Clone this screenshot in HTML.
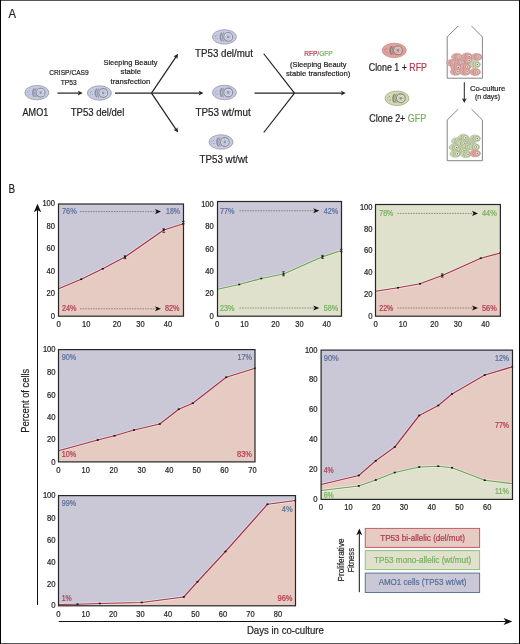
<!DOCTYPE html><html><head><meta charset="utf-8"><title>Figure</title><style>html,body{margin:0;padding:0;background:#fff;}svg{display:block;will-change:transform;}</style></head><body>
<svg width="520" height="644" viewBox="0 0 520 644" font-family="&quot;Liberation Sans&quot;, sans-serif">
<rect x="0" y="0" width="520" height="644" fill="#fff"/>
<rect x="0" y="0" width="520" height="1" fill="#555"/><rect x="0" y="643" width="520" height="1" fill="#555"/>
<rect x="0" y="0" width="1" height="644" fill="#000"/><rect x="519" y="0" width="1" height="644" fill="#000"/>
<text x="8.5" y="18.1" font-size="12" fill="#231f20" stroke="#231f20" stroke-width="0.22" text-anchor="start" textLength="7.5" lengthAdjust="spacingAndGlyphs">A</text>
<g transform="translate(36.85,92.65) scale(1.0)"><ellipse cx="0" cy="0" rx="12" ry="7.2" fill="#c6cbe2" stroke="#9597a8" stroke-width="0.8"/><path d="M-2.6,-4.2 Q-5.6,0 -2.6,4.2" fill="none" stroke="#8d8f9d" stroke-width="1.5"/><path d="M-0.6,-4.6 Q-3.6,0 -0.6,4.6" fill="none" stroke="#8d8f9d" stroke-width="1.2" opacity="0.75"/><circle cx="3.8" cy="0" r="4.4" fill="#d7dbee" stroke="#8d8f9d" stroke-width="1.1"/><circle cx="3.8" cy="0" r="2.6" fill="none" stroke="#8d8f9d" stroke-width="0.6" opacity="0.6"/><circle cx="3.8" cy="0" r="1.4" fill="#8d8f9d" opacity="0.9"/><circle cx="-9" cy="-0.5" r="0.55" fill="#8d8f9d"/><circle cx="-7.5" cy="-1.8" r="0.5" fill="#8d8f9d"/><circle cx="-7" cy="1.6" r="0.55" fill="#8d8f9d"/><circle cx="-9.2" cy="1.8" r="0.4" fill="#8d8f9d"/></g>
<g transform="translate(99.4,93) scale(1.0)"><ellipse cx="0" cy="0" rx="12" ry="7.2" fill="#c6cbe2" stroke="#9597a8" stroke-width="0.8"/><path d="M-2.6,-4.2 Q-5.6,0 -2.6,4.2" fill="none" stroke="#8d8f9d" stroke-width="1.5"/><path d="M-0.6,-4.6 Q-3.6,0 -0.6,4.6" fill="none" stroke="#8d8f9d" stroke-width="1.2" opacity="0.75"/><circle cx="3.8" cy="0" r="4.4" fill="#d7dbee" stroke="#8d8f9d" stroke-width="1.1"/><circle cx="3.8" cy="0" r="2.6" fill="none" stroke="#8d8f9d" stroke-width="0.6" opacity="0.6"/><circle cx="3.8" cy="0" r="1.4" fill="#8d8f9d" opacity="0.9"/><circle cx="-9" cy="-0.5" r="0.55" fill="#8d8f9d"/><circle cx="-7.5" cy="-1.8" r="0.5" fill="#8d8f9d"/><circle cx="-7" cy="1.6" r="0.55" fill="#8d8f9d"/><circle cx="-9.2" cy="1.8" r="0.4" fill="#8d8f9d"/></g>
<g transform="translate(224.4,36.9) scale(1.0)"><ellipse cx="0" cy="0" rx="12" ry="7.2" fill="#c6cbe2" stroke="#9597a8" stroke-width="0.8"/><path d="M-2.6,-4.2 Q-5.6,0 -2.6,4.2" fill="none" stroke="#8d8f9d" stroke-width="1.5"/><path d="M-0.6,-4.6 Q-3.6,0 -0.6,4.6" fill="none" stroke="#8d8f9d" stroke-width="1.2" opacity="0.75"/><circle cx="3.8" cy="0" r="4.4" fill="#d7dbee" stroke="#8d8f9d" stroke-width="1.1"/><circle cx="3.8" cy="0" r="2.6" fill="none" stroke="#8d8f9d" stroke-width="0.6" opacity="0.6"/><circle cx="3.8" cy="0" r="1.4" fill="#8d8f9d" opacity="0.9"/><circle cx="-9" cy="-0.5" r="0.55" fill="#8d8f9d"/><circle cx="-7.5" cy="-1.8" r="0.5" fill="#8d8f9d"/><circle cx="-7" cy="1.6" r="0.55" fill="#8d8f9d"/><circle cx="-9.2" cy="1.8" r="0.4" fill="#8d8f9d"/></g>
<g transform="translate(224.4,92.5) scale(1.0)"><ellipse cx="0" cy="0" rx="12" ry="7.2" fill="#c6cbe2" stroke="#9597a8" stroke-width="0.8"/><path d="M-2.6,-4.2 Q-5.6,0 -2.6,4.2" fill="none" stroke="#8d8f9d" stroke-width="1.5"/><path d="M-0.6,-4.6 Q-3.6,0 -0.6,4.6" fill="none" stroke="#8d8f9d" stroke-width="1.2" opacity="0.75"/><circle cx="3.8" cy="0" r="4.4" fill="#d7dbee" stroke="#8d8f9d" stroke-width="1.1"/><circle cx="3.8" cy="0" r="2.6" fill="none" stroke="#8d8f9d" stroke-width="0.6" opacity="0.6"/><circle cx="3.8" cy="0" r="1.4" fill="#8d8f9d" opacity="0.9"/><circle cx="-9" cy="-0.5" r="0.55" fill="#8d8f9d"/><circle cx="-7.5" cy="-1.8" r="0.5" fill="#8d8f9d"/><circle cx="-7" cy="1.6" r="0.55" fill="#8d8f9d"/><circle cx="-9.2" cy="1.8" r="0.4" fill="#8d8f9d"/></g>
<g transform="translate(221,142) scale(1.0)"><ellipse cx="0" cy="0" rx="12" ry="7.2" fill="#c6cbe2" stroke="#9597a8" stroke-width="0.8"/><path d="M-2.6,-4.2 Q-5.6,0 -2.6,4.2" fill="none" stroke="#8d8f9d" stroke-width="1.5"/><path d="M-0.6,-4.6 Q-3.6,0 -0.6,4.6" fill="none" stroke="#8d8f9d" stroke-width="1.2" opacity="0.75"/><circle cx="3.8" cy="0" r="4.4" fill="#d7dbee" stroke="#8d8f9d" stroke-width="1.1"/><circle cx="3.8" cy="0" r="2.6" fill="none" stroke="#8d8f9d" stroke-width="0.6" opacity="0.6"/><circle cx="3.8" cy="0" r="1.4" fill="#8d8f9d" opacity="0.9"/><circle cx="-9" cy="-0.5" r="0.55" fill="#8d8f9d"/><circle cx="-7.5" cy="-1.8" r="0.5" fill="#8d8f9d"/><circle cx="-7" cy="1.6" r="0.55" fill="#8d8f9d"/><circle cx="-9.2" cy="1.8" r="0.4" fill="#8d8f9d"/></g>
<g transform="translate(394.2,50.4) scale(1.0)"><ellipse cx="0" cy="0" rx="12" ry="7.2" fill="#e2a29c" stroke="#c98a86" stroke-width="0.8"/><path d="M-2.6,-4.2 Q-5.6,0 -2.6,4.2" fill="none" stroke="#8f7c7c" stroke-width="1.5"/><path d="M-0.6,-4.6 Q-3.6,0 -0.6,4.6" fill="none" stroke="#8f7c7c" stroke-width="1.2" opacity="0.75"/><circle cx="3.8" cy="0" r="4.4" fill="#f0c7c2" stroke="#8f7c7c" stroke-width="1.1"/><circle cx="3.8" cy="0" r="2.6" fill="none" stroke="#8f7c7c" stroke-width="0.6" opacity="0.6"/><circle cx="3.8" cy="0" r="1.4" fill="#8f7c7c" opacity="0.9"/><circle cx="-9" cy="-0.5" r="0.55" fill="#8f7c7c"/><circle cx="-7.5" cy="-1.8" r="0.5" fill="#8f7c7c"/><circle cx="-7" cy="1.6" r="0.55" fill="#8f7c7c"/><circle cx="-9.2" cy="1.8" r="0.4" fill="#8f7c7c"/></g>
<g transform="translate(397,98.3) scale(1.0)"><ellipse cx="0" cy="0" rx="12" ry="7.2" fill="#cfdbb0" stroke="#a2aa90" stroke-width="0.8"/><path d="M-2.6,-4.2 Q-5.6,0 -2.6,4.2" fill="none" stroke="#858a7a" stroke-width="1.5"/><path d="M-0.6,-4.6 Q-3.6,0 -0.6,4.6" fill="none" stroke="#858a7a" stroke-width="1.2" opacity="0.75"/><circle cx="3.8" cy="0" r="4.4" fill="#e3ead0" stroke="#858a7a" stroke-width="1.1"/><circle cx="3.8" cy="0" r="2.6" fill="none" stroke="#858a7a" stroke-width="0.6" opacity="0.6"/><circle cx="3.8" cy="0" r="1.4" fill="#858a7a" opacity="0.9"/><circle cx="-9" cy="-0.5" r="0.55" fill="#858a7a"/><circle cx="-7.5" cy="-1.8" r="0.5" fill="#858a7a"/><circle cx="-7" cy="1.6" r="0.55" fill="#858a7a"/><circle cx="-9.2" cy="1.8" r="0.4" fill="#858a7a"/></g>
<text x="22.5" y="115.6" font-size="10.4" fill="#231f20" stroke="#231f20" stroke-width="0.22" text-anchor="start" textLength="25.75" lengthAdjust="spacingAndGlyphs">AMO1</text>
<text x="69" y="75" font-size="8" fill="#231f20" stroke="#231f20" stroke-width="0.22" text-anchor="middle" textLength="39.5" lengthAdjust="spacingAndGlyphs">CRISP/CAS9</text>
<text x="68.75" y="84.5" font-size="8" fill="#231f20" stroke="#231f20" stroke-width="0.22" text-anchor="middle" textLength="16" lengthAdjust="spacingAndGlyphs">TP53</text>
<text x="70.75" y="115.6" font-size="10.4" fill="#231f20" stroke="#231f20" stroke-width="0.22" text-anchor="start" textLength="53.5" lengthAdjust="spacingAndGlyphs">TP53 del/del</text>
<text x="130.5" y="64.6" font-size="8.1" fill="#231f20" stroke="#231f20" stroke-width="0.22" text-anchor="middle" textLength="54" lengthAdjust="spacingAndGlyphs">Sleeping Beauty</text>
<text x="130.8" y="74" font-size="8.1" fill="#231f20" stroke="#231f20" stroke-width="0.22" text-anchor="middle" textLength="20.4" lengthAdjust="spacingAndGlyphs">stable</text>
<text x="130.4" y="83.6" font-size="8.1" fill="#231f20" stroke="#231f20" stroke-width="0.22" text-anchor="middle" textLength="39.6" lengthAdjust="spacingAndGlyphs">transfection</text>
<text x="195" y="57.1" font-size="10.4" fill="#231f20" stroke="#231f20" stroke-width="0.22" text-anchor="start" textLength="58" lengthAdjust="spacingAndGlyphs">TP53 del/mut</text>
<text x="195.5" y="115.6" font-size="10.4" fill="#231f20" stroke="#231f20" stroke-width="0.22" text-anchor="start" textLength="55.25" lengthAdjust="spacingAndGlyphs">TP53 wt/mut</text>
<text x="199.6" y="162.9" font-size="10.4" fill="#231f20" stroke="#231f20" stroke-width="0.22" text-anchor="start" textLength="48.2" lengthAdjust="spacingAndGlyphs">TP53 wt/wt</text>
<text x="304.2" y="56.3" font-size="8" stroke-width="0.22" textLength="28.5" lengthAdjust="spacingAndGlyphs"><tspan fill="#b23a50" stroke="#b23a50">RFP</tspan><tspan fill="#777" stroke="#777">/</tspan><tspan fill="#78b062" stroke="#78b062">GFP</tspan></text>
<text x="290" y="66.8" font-size="8" fill="#231f20" stroke="#231f20" stroke-width="0.22" text-anchor="start" textLength="56.5" lengthAdjust="spacingAndGlyphs">(Sleeping Beauty</text>
<text x="286" y="76.3" font-size="8" fill="#231f20" stroke="#231f20" stroke-width="0.22" text-anchor="start" textLength="64.2" lengthAdjust="spacingAndGlyphs">stable transfection)</text>
<text x="368.75" y="70.75" font-size="10.2" fill="#231f20" stroke="#231f20" stroke-width="0.22" textLength="58.25" lengthAdjust="spacingAndGlyphs">Clone 1 + <tspan fill="#b23a50" stroke="#b23a50">RFP</tspan></text>
<text x="369.25" y="122" font-size="10.2" fill="#231f20" stroke="#231f20" stroke-width="0.22" textLength="57" lengthAdjust="spacingAndGlyphs">Clone 2+ <tspan fill="#78b062" stroke="#78b062">GFP</tspan></text>
<text x="470" y="90.8" font-size="7.9" fill="#231f20" stroke="#231f20" stroke-width="0.22" text-anchor="start" textLength="35.4" lengthAdjust="spacingAndGlyphs">Co-culture</text>
<text x="475" y="99.2" font-size="7.9" fill="#231f20" stroke="#231f20" stroke-width="0.22" text-anchor="start" textLength="25" lengthAdjust="spacingAndGlyphs">(n days)</text>
<line x1="57.4" y1="93.1" x2="78.9" y2="93.1" stroke="#222" stroke-width="1.2"/>
<path transform="translate(82.7,93.1) rotate(0.0)" d="M0,0 L-4.8,-2.4 L-3.8,0 L-4.8,2.4 Z" fill="#222"/>
<line x1="115" y1="93.1" x2="151.5" y2="93.1" stroke="#222" stroke-width="1.2"/>
<line x1="151.5" y1="93.1" x2="175.97187384141347" y2="56.898186629337566" stroke="#222" stroke-width="1.2"/>
<path transform="translate(178.1,53.75) rotate(-55.94190625102983)" d="M0,0 L-4.8,-2.4 L-3.8,0 L-4.8,2.4 Z" fill="#222"/>
<line x1="151.5" y1="93.1" x2="199.7" y2="93.1" stroke="#222" stroke-width="1.2"/>
<path transform="translate(203.5,93.1) rotate(0.0)" d="M0,0 L-4.8,-2.4 L-3.8,0 L-4.8,2.4 Z" fill="#222"/>
<line x1="151.5" y1="93.1" x2="175.973728586243" y2="129.35056038714188" stroke="#222" stroke-width="1.2"/>
<path transform="translate(178.1,132.5) rotate(55.97565517281256)" d="M0,0 L-4.8,-2.4 L-3.8,0 L-4.8,2.4 Z" fill="#222"/>
<line x1="263.75" y1="53.75" x2="294.5" y2="93.1" stroke="#222" stroke-width="1.2"/>
<line x1="263.75" y1="132.5" x2="294.5" y2="93.1" stroke="#222" stroke-width="1.2"/>
<line x1="254.5" y1="93.1" x2="341.95" y2="93.1" stroke="#222" stroke-width="1.2"/>
<path transform="translate(345.75,93.1) rotate(0.0)" d="M0,0 L-4.8,-2.4 L-3.8,0 L-4.8,2.4 Z" fill="#222"/>
<line x1="464.3" y1="82.3" x2="464.3" y2="99.2" stroke="#222" stroke-width="1.0"/>
<path transform="translate(464.3,103) rotate(90.0)" d="M0,0 L-4.8,-2.4 L-3.8,0 L-4.8,2.4 Z" fill="#222"/>
<path d="M458.2,26 L447.2,37 L447.2,78.2 L482.4,78.2 L482.4,37 L471.5,26" fill="none" stroke="#777" stroke-width="0.9"/>
<path d="M458.2,109.2 L447.2,120 L447.2,160.7 L482.4,160.7 L482.4,120 L471.5,109.2" fill="none" stroke="#777" stroke-width="0.9"/>
<g transform="translate(456.9,56.9)"><ellipse rx="5.4" ry="3.5" fill="#e3a7a1" stroke="#c98c87" stroke-width="0.6"/><path d="M-1.2,-2.6 Q-3.4,0 -1.2,2.6" fill="none" stroke="#86797a" stroke-width="0.8" opacity="0.55"/><circle cx="2.2" r="2.1" fill="#f1d5d1" stroke="#86797a" stroke-width="0.55" stroke-opacity="0.8"/><circle cx="2.2" r="0.75" fill="#86797a"/></g>
<g transform="translate(467,56.5)"><ellipse rx="5.4" ry="3.5" fill="#e3a7a1" stroke="#c98c87" stroke-width="0.6"/><path d="M-1.2,-2.6 Q-3.4,0 -1.2,2.6" fill="none" stroke="#86797a" stroke-width="0.8" opacity="0.55"/><circle cx="2.2" r="2.1" fill="#f1d5d1" stroke="#86797a" stroke-width="0.55" stroke-opacity="0.8"/><circle cx="2.2" r="0.75" fill="#86797a"/></g>
<g transform="translate(476.7,57)"><ellipse rx="5.4" ry="3.5" fill="#e3a7a1" stroke="#c98c87" stroke-width="0.6"/><path d="M-1.2,-2.6 Q-3.4,0 -1.2,2.6" fill="none" stroke="#86797a" stroke-width="0.8" opacity="0.55"/><circle cx="2.2" r="2.1" fill="#f1d5d1" stroke="#86797a" stroke-width="0.55" stroke-opacity="0.8"/><circle cx="2.2" r="0.75" fill="#86797a"/></g>
<g transform="translate(452,62.9)"><ellipse rx="5.4" ry="3.5" fill="#e3a7a1" stroke="#c98c87" stroke-width="0.6"/><path d="M-1.2,-2.6 Q-3.4,0 -1.2,2.6" fill="none" stroke="#86797a" stroke-width="0.8" opacity="0.55"/><circle cx="2.2" r="2.1" fill="#f1d5d1" stroke="#86797a" stroke-width="0.55" stroke-opacity="0.8"/><circle cx="2.2" r="0.75" fill="#86797a"/></g>
<g transform="translate(467,60.5)"><ellipse rx="5.4" ry="3.5" fill="#e3a7a1" stroke="#c98c87" stroke-width="0.6"/><path d="M-1.2,-2.6 Q-3.4,0 -1.2,2.6" fill="none" stroke="#86797a" stroke-width="0.8" opacity="0.55"/><circle cx="2.2" r="2.1" fill="#f1d5d1" stroke="#86797a" stroke-width="0.55" stroke-opacity="0.8"/><circle cx="2.2" r="0.75" fill="#86797a"/></g>
<g transform="translate(459.8,62.9)"><ellipse rx="5.4" ry="3.5" fill="#e3a7a1" stroke="#c98c87" stroke-width="0.6"/><path d="M-1.2,-2.6 Q-3.4,0 -1.2,2.6" fill="none" stroke="#86797a" stroke-width="0.8" opacity="0.55"/><circle cx="2.2" r="2.1" fill="#f1d5d1" stroke="#86797a" stroke-width="0.55" stroke-opacity="0.8"/><circle cx="2.2" r="0.75" fill="#86797a"/></g>
<g transform="translate(475.1,64.5)"><ellipse rx="5.4" ry="3.5" fill="#cad8ab" stroke="#a9b793" stroke-width="0.6"/><path d="M-1.2,-2.6 Q-3.4,0 -1.2,2.6" fill="none" stroke="#6f7668" stroke-width="0.8" opacity="0.55"/><circle cx="2.2" r="2.1" fill="#edf1df" stroke="#6f7668" stroke-width="0.55" stroke-opacity="0.8"/><circle cx="2.2" r="0.75" fill="#6f7668"/></g>
<g transform="translate(456.1,67.4)"><ellipse rx="5.4" ry="3.5" fill="#e3a7a1" stroke="#c98c87" stroke-width="0.6"/><path d="M-1.2,-2.6 Q-3.4,0 -1.2,2.6" fill="none" stroke="#86797a" stroke-width="0.8" opacity="0.55"/><circle cx="2.2" r="2.1" fill="#f1d5d1" stroke="#86797a" stroke-width="0.55" stroke-opacity="0.8"/><circle cx="2.2" r="0.75" fill="#86797a"/></g>
<g transform="translate(465.4,67)"><ellipse rx="5.4" ry="3.5" fill="#e3a7a1" stroke="#c98c87" stroke-width="0.6"/><path d="M-1.2,-2.6 Q-3.4,0 -1.2,2.6" fill="none" stroke="#86797a" stroke-width="0.8" opacity="0.55"/><circle cx="2.2" r="2.1" fill="#f1d5d1" stroke="#86797a" stroke-width="0.55" stroke-opacity="0.8"/><circle cx="2.2" r="0.75" fill="#86797a"/></g>
<g transform="translate(455.7,71.8)"><ellipse rx="5.4" ry="3.5" fill="#e3a7a1" stroke="#c98c87" stroke-width="0.6"/><path d="M-1.2,-2.6 Q-3.4,0 -1.2,2.6" fill="none" stroke="#86797a" stroke-width="0.8" opacity="0.55"/><circle cx="2.2" r="2.1" fill="#f1d5d1" stroke="#86797a" stroke-width="0.55" stroke-opacity="0.8"/><circle cx="2.2" r="0.75" fill="#86797a"/></g>
<g transform="translate(465,71.8)"><ellipse rx="5.4" ry="3.5" fill="#e3a7a1" stroke="#c98c87" stroke-width="0.6"/><path d="M-1.2,-2.6 Q-3.4,0 -1.2,2.6" fill="none" stroke="#86797a" stroke-width="0.8" opacity="0.55"/><circle cx="2.2" r="2.1" fill="#f1d5d1" stroke="#86797a" stroke-width="0.55" stroke-opacity="0.8"/><circle cx="2.2" r="0.75" fill="#86797a"/></g>
<g transform="translate(475.1,72)"><ellipse rx="5.4" ry="3.5" fill="#e3a7a1" stroke="#c98c87" stroke-width="0.6"/><path d="M-1.2,-2.6 Q-3.4,0 -1.2,2.6" fill="none" stroke="#86797a" stroke-width="0.8" opacity="0.55"/><circle cx="2.2" r="2.1" fill="#f1d5d1" stroke="#86797a" stroke-width="0.55" stroke-opacity="0.8"/><circle cx="2.2" r="0.75" fill="#86797a"/></g>
<g transform="translate(463.4,137.7)"><ellipse rx="5.4" ry="3.5" fill="#cad8ab" stroke="#a9b793" stroke-width="0.6"/><path d="M-1.2,-2.6 Q-3.4,0 -1.2,2.6" fill="none" stroke="#6f7668" stroke-width="0.8" opacity="0.55"/><circle cx="2.2" r="2.1" fill="#edf1df" stroke="#6f7668" stroke-width="0.55" stroke-opacity="0.8"/><circle cx="2.2" r="0.75" fill="#6f7668"/></g>
<g transform="translate(475.1,138.5)"><ellipse rx="5.4" ry="3.5" fill="#cad8ab" stroke="#a9b793" stroke-width="0.6"/><path d="M-1.2,-2.6 Q-3.4,0 -1.2,2.6" fill="none" stroke="#6f7668" stroke-width="0.8" opacity="0.55"/><circle cx="2.2" r="2.1" fill="#edf1df" stroke="#6f7668" stroke-width="0.55" stroke-opacity="0.8"/><circle cx="2.2" r="0.75" fill="#6f7668"/></g>
<g transform="translate(456.9,141.3)"><ellipse rx="5.4" ry="3.5" fill="#cad8ab" stroke="#a9b793" stroke-width="0.6"/><path d="M-1.2,-2.6 Q-3.4,0 -1.2,2.6" fill="none" stroke="#6f7668" stroke-width="0.8" opacity="0.55"/><circle cx="2.2" r="2.1" fill="#edf1df" stroke="#6f7668" stroke-width="0.55" stroke-opacity="0.8"/><circle cx="2.2" r="0.75" fill="#6f7668"/></g>
<g transform="translate(469.8,142.1)"><ellipse rx="5.4" ry="3.5" fill="#cad8ab" stroke="#a9b793" stroke-width="0.6"/><path d="M-1.2,-2.6 Q-3.4,0 -1.2,2.6" fill="none" stroke="#6f7668" stroke-width="0.8" opacity="0.55"/><circle cx="2.2" r="2.1" fill="#edf1df" stroke="#6f7668" stroke-width="0.55" stroke-opacity="0.8"/><circle cx="2.2" r="0.75" fill="#6f7668"/></g>
<g transform="translate(462.6,143.3)"><ellipse rx="5.4" ry="3.5" fill="#cad8ab" stroke="#a9b793" stroke-width="0.6"/><path d="M-1.2,-2.6 Q-3.4,0 -1.2,2.6" fill="none" stroke="#6f7668" stroke-width="0.8" opacity="0.55"/><circle cx="2.2" r="2.1" fill="#edf1df" stroke="#6f7668" stroke-width="0.55" stroke-opacity="0.8"/><circle cx="2.2" r="0.75" fill="#6f7668"/></g>
<g transform="translate(454.5,147.4)"><ellipse rx="5.4" ry="3.5" fill="#cad8ab" stroke="#a9b793" stroke-width="0.6"/><path d="M-1.2,-2.6 Q-3.4,0 -1.2,2.6" fill="none" stroke="#6f7668" stroke-width="0.8" opacity="0.55"/><circle cx="2.2" r="2.1" fill="#edf1df" stroke="#6f7668" stroke-width="0.55" stroke-opacity="0.8"/><circle cx="2.2" r="0.75" fill="#6f7668"/></g>
<g transform="translate(467.4,147)"><ellipse rx="5.4" ry="3.5" fill="#cad8ab" stroke="#a9b793" stroke-width="0.6"/><path d="M-1.2,-2.6 Q-3.4,0 -1.2,2.6" fill="none" stroke="#6f7668" stroke-width="0.8" opacity="0.55"/><circle cx="2.2" r="2.1" fill="#edf1df" stroke="#6f7668" stroke-width="0.55" stroke-opacity="0.8"/><circle cx="2.2" r="0.75" fill="#6f7668"/></g>
<g transform="translate(474.3,147)"><ellipse rx="5.4" ry="3.5" fill="#cad8ab" stroke="#a9b793" stroke-width="0.6"/><path d="M-1.2,-2.6 Q-3.4,0 -1.2,2.6" fill="none" stroke="#6f7668" stroke-width="0.8" opacity="0.55"/><circle cx="2.2" r="2.1" fill="#edf1df" stroke="#6f7668" stroke-width="0.55" stroke-opacity="0.8"/><circle cx="2.2" r="0.75" fill="#6f7668"/></g>
<g transform="translate(461.8,150.6)"><ellipse rx="5.4" ry="3.5" fill="#cad8ab" stroke="#a9b793" stroke-width="0.6"/><path d="M-1.2,-2.6 Q-3.4,0 -1.2,2.6" fill="none" stroke="#6f7668" stroke-width="0.8" opacity="0.55"/><circle cx="2.2" r="2.1" fill="#edf1df" stroke="#6f7668" stroke-width="0.55" stroke-opacity="0.8"/><circle cx="2.2" r="0.75" fill="#6f7668"/></g>
<g transform="translate(455.3,153.8)"><ellipse rx="5.4" ry="3.5" fill="#cad8ab" stroke="#a9b793" stroke-width="0.6"/><path d="M-1.2,-2.6 Q-3.4,0 -1.2,2.6" fill="none" stroke="#6f7668" stroke-width="0.8" opacity="0.55"/><circle cx="2.2" r="2.1" fill="#edf1df" stroke="#6f7668" stroke-width="0.55" stroke-opacity="0.8"/><circle cx="2.2" r="0.75" fill="#6f7668"/></g>
<g transform="translate(465.8,154.2)"><ellipse rx="5.4" ry="3.5" fill="#cad8ab" stroke="#a9b793" stroke-width="0.6"/><path d="M-1.2,-2.6 Q-3.4,0 -1.2,2.6" fill="none" stroke="#6f7668" stroke-width="0.8" opacity="0.55"/><circle cx="2.2" r="2.1" fill="#edf1df" stroke="#6f7668" stroke-width="0.55" stroke-opacity="0.8"/><circle cx="2.2" r="0.75" fill="#6f7668"/></g>
<g transform="translate(475.1,153.4)"><ellipse rx="5.4" ry="3.5" fill="#e3a7a1" stroke="#c98c87" stroke-width="0.6"/><path d="M-1.2,-2.6 Q-3.4,0 -1.2,2.6" fill="none" stroke="#86797a" stroke-width="0.8" opacity="0.55"/><circle cx="2.2" r="2.1" fill="#f1d5d1" stroke="#86797a" stroke-width="0.55" stroke-opacity="0.8"/><circle cx="2.2" r="0.75" fill="#86797a"/></g>
<text x="8.5" y="192.9" font-size="12" fill="#231f20" stroke="#231f20" stroke-width="0.22" text-anchor="start" textLength="6.6" lengthAdjust="spacingAndGlyphs">B</text>
<rect x="58.5" y="204" width="125.0" height="112.19999999999999" fill="#cac8d7"/>
<polygon points="58.5,288.75 81.25,279.25 102.75,268.75 125,257 163.75,230 183.5,223.75 183.5,316.2 58.5,316.2" fill="#e5cbc1"/>
<polyline points="58.5,288.75 81.25,279.25 102.75,268.75 125,257 163.75,230 183.5,223.75" fill="none" stroke="#f4f2f4" stroke-opacity="0.55" stroke-width="2.8" stroke-linejoin="round"/>
<polyline points="58.5,288.75 81.25,279.25 102.75,268.75 125,257 163.75,230 183.5,223.75" fill="none" stroke="#a93347" stroke-width="1.25" stroke-linejoin="round"/>
<rect x="80.25" y="278.45" width="2" height="1.6" fill="#111"/>
<rect x="101.75" y="267.95" width="2" height="1.6" fill="#111"/>
<rect x="124" y="256.2" width="2" height="1.6" fill="#111"/>
<rect x="162.75" y="229.2" width="2" height="1.6" fill="#111"/>
<rect x="182.5" y="222.95" width="1.6" height="1.6" fill="#111"/>
<path d="M125,255.79999999999998 V258.59999999999997" stroke="#222" stroke-width="0.6" fill="none"/><path d="M123.7,255.79999999999998 H126.3 M123.7,258.59999999999997 H126.3" stroke="#111" stroke-width="0.75" fill="none"/>
<path d="M163.75,228.79999999999998 V232.4" stroke="#222" stroke-width="0.6" fill="none"/><path d="M162.45,228.79999999999998 H165.05 M162.45,232.4 H165.05" stroke="#111" stroke-width="0.75" fill="none"/>
<path d="M183.3,221.4 V223.79999999999998" stroke="#222" stroke-width="0.6" fill="none"/><path d="M182.0,221.4 H184.60000000000002 M182.0,223.79999999999998 H184.60000000000002" stroke="#111" stroke-width="0.75" fill="none"/>
<rect x="58.5" y="204" width="125.0" height="112.19999999999999" fill="none" stroke="#262626" stroke-width="1.2"/>
<text x="55" y="206.4" font-size="8.2" fill="#231f20" stroke="#231f20" stroke-width="0.22" text-anchor="end" textLength="12.6" lengthAdjust="spacingAndGlyphs">100</text>
<text x="55" y="228.9" font-size="8.2" fill="#231f20" stroke="#231f20" stroke-width="0.22" text-anchor="end" textLength="8.5" lengthAdjust="spacingAndGlyphs">80</text>
<text x="55" y="251.4" font-size="8.2" fill="#231f20" stroke="#231f20" stroke-width="0.22" text-anchor="end" textLength="8.5" lengthAdjust="spacingAndGlyphs">60</text>
<text x="55" y="273.9" font-size="8.2" fill="#231f20" stroke="#231f20" stroke-width="0.22" text-anchor="end" textLength="8.5" lengthAdjust="spacingAndGlyphs">40</text>
<text x="55" y="296.4" font-size="8.2" fill="#231f20" stroke="#231f20" stroke-width="0.22" text-anchor="end" textLength="8.5" lengthAdjust="spacingAndGlyphs">20</text>
<text x="55" y="318.65" font-size="8.2" fill="#231f20" stroke="#231f20" stroke-width="0.22" text-anchor="end" textLength="4.3" lengthAdjust="spacingAndGlyphs">0</text>
<text x="58.75" y="327" font-size="8.2" fill="#231f20" stroke="#231f20" stroke-width="0.22" text-anchor="middle" textLength="4.3" lengthAdjust="spacingAndGlyphs">0</text>
<text x="86.25" y="327" font-size="8.2" fill="#231f20" stroke="#231f20" stroke-width="0.22" text-anchor="middle" textLength="8.3" lengthAdjust="spacingAndGlyphs">10</text>
<text x="117" y="327" font-size="8.2" fill="#231f20" stroke="#231f20" stroke-width="0.22" text-anchor="middle" textLength="8.3" lengthAdjust="spacingAndGlyphs">20</text>
<text x="140.5" y="327" font-size="8.2" fill="#231f20" stroke="#231f20" stroke-width="0.22" text-anchor="middle" textLength="8.3" lengthAdjust="spacingAndGlyphs">30</text>
<text x="168" y="327" font-size="8.2" fill="#231f20" stroke="#231f20" stroke-width="0.22" text-anchor="middle" textLength="8.3" lengthAdjust="spacingAndGlyphs">40</text>
<text x="62" y="214" font-size="8.2" fill="#5a6f98" stroke="#5a6f98" stroke-width="0.22" text-anchor="start" textLength="14.8" lengthAdjust="spacingAndGlyphs">76%</text>
<text x="180" y="214" font-size="8.2" fill="#5a6f98" stroke="#5a6f98" stroke-width="0.22" text-anchor="end" textLength="14" lengthAdjust="spacingAndGlyphs">18%</text>
<text x="62" y="311.3" font-size="8.2" fill="#b23a50" stroke="#b23a50" stroke-width="0.22" text-anchor="start" textLength="14.6" lengthAdjust="spacingAndGlyphs">24%</text>
<text x="179.5" y="311.3" font-size="8.2" fill="#b23a50" stroke="#b23a50" stroke-width="0.22" text-anchor="end" textLength="14.5" lengthAdjust="spacingAndGlyphs">82%</text>
<line x1="80" y1="211.6" x2="156" y2="211.6" stroke="#4a4a4a" stroke-width="0.55" stroke-dasharray="1.6,1.0"/>
<path transform="translate(161,211.6) rotate(0)" d="M0,0 L-6,-2.6 L-4.5,0 L-6,2.6 Z" fill="#111"/>
<line x1="80" y1="308.75" x2="156" y2="308.75" stroke="#4a4a4a" stroke-width="0.55" stroke-dasharray="1.6,1.0"/>
<path transform="translate(161,308.75) rotate(0)" d="M0,0 L-6,-2.6 L-4.5,0 L-6,2.6 Z" fill="#111"/>
<rect x="217.5" y="201.5" width="124.0" height="114.69999999999999" fill="#cac8d7"/>
<polygon points="217.5,289.25 239.25,284.5 261.25,278.5 283.5,274 322.5,256.75 341.5,250.5 341.5,316.2 217.5,316.2" fill="#dfe1cc"/>
<polyline points="217.5,289.25 239.25,284.5 261.25,278.5 283.5,274 322.5,256.75 341.5,250.5" fill="none" stroke="#f4f2f4" stroke-opacity="0.55" stroke-width="2.8" stroke-linejoin="round"/>
<polyline points="217.5,289.25 239.25,284.5 261.25,278.5 283.5,274 322.5,256.75 341.5,250.5" fill="none" stroke="#6aa650" stroke-width="1.25" stroke-linejoin="round"/>
<rect x="238.25" y="283.7" width="2" height="1.6" fill="#111"/>
<rect x="260.25" y="277.7" width="2" height="1.6" fill="#111"/>
<rect x="282.5" y="273.2" width="2" height="1.6" fill="#111"/>
<rect x="321.5" y="255.95" width="2" height="1.6" fill="#111"/>
<path d="M283.5,271.8 V275.8" stroke="#222" stroke-width="0.6" fill="none"/><path d="M282.2,271.8 H284.8 M282.2,275.8 H284.8" stroke="#111" stroke-width="0.75" fill="none"/>
<path d="M322.5,255.39999999999998 V258.4" stroke="#222" stroke-width="0.6" fill="none"/><path d="M321.2,255.39999999999998 H323.8 M321.2,258.4 H323.8" stroke="#111" stroke-width="0.75" fill="none"/>
<path d="M341.3,249.3 V251.7" stroke="#222" stroke-width="0.6" fill="none"/><path d="M340.0,249.3 H342.6 M340.0,251.7 H342.6" stroke="#111" stroke-width="0.75" fill="none"/>
<rect x="217.5" y="201.5" width="124.0" height="114.69999999999999" fill="none" stroke="#262626" stroke-width="1.2"/>
<text x="213.75" y="206.65" font-size="8.2" fill="#231f20" stroke="#231f20" stroke-width="0.22" text-anchor="end" textLength="12.6" lengthAdjust="spacingAndGlyphs">100</text>
<text x="213.75" y="228.9" font-size="8.2" fill="#231f20" stroke="#231f20" stroke-width="0.22" text-anchor="end" textLength="8.5" lengthAdjust="spacingAndGlyphs">80</text>
<text x="213.75" y="251.65" font-size="8.2" fill="#231f20" stroke="#231f20" stroke-width="0.22" text-anchor="end" textLength="8.5" lengthAdjust="spacingAndGlyphs">60</text>
<text x="213.75" y="273.9" font-size="8.2" fill="#231f20" stroke="#231f20" stroke-width="0.22" text-anchor="end" textLength="8.5" lengthAdjust="spacingAndGlyphs">40</text>
<text x="213.75" y="296.4" font-size="8.2" fill="#231f20" stroke="#231f20" stroke-width="0.22" text-anchor="end" textLength="8.5" lengthAdjust="spacingAndGlyphs">20</text>
<text x="213.75" y="318.65" font-size="8.2" fill="#231f20" stroke="#231f20" stroke-width="0.22" text-anchor="end" textLength="4.3" lengthAdjust="spacingAndGlyphs">0</text>
<text x="217.25" y="327" font-size="8.2" fill="#231f20" stroke="#231f20" stroke-width="0.22" text-anchor="middle" textLength="4.3" lengthAdjust="spacingAndGlyphs">0</text>
<text x="244.5" y="327" font-size="8.2" fill="#231f20" stroke="#231f20" stroke-width="0.22" text-anchor="middle" textLength="8.3" lengthAdjust="spacingAndGlyphs">10</text>
<text x="275.5" y="327" font-size="8.2" fill="#231f20" stroke="#231f20" stroke-width="0.22" text-anchor="middle" textLength="8.3" lengthAdjust="spacingAndGlyphs">20</text>
<text x="299.5" y="327" font-size="8.2" fill="#231f20" stroke="#231f20" stroke-width="0.22" text-anchor="middle" textLength="8.3" lengthAdjust="spacingAndGlyphs">30</text>
<text x="326.75" y="327" font-size="8.2" fill="#231f20" stroke="#231f20" stroke-width="0.22" text-anchor="middle" textLength="8.3" lengthAdjust="spacingAndGlyphs">40</text>
<text x="220" y="213.6" font-size="8.2" fill="#5a6f98" stroke="#5a6f98" stroke-width="0.22" text-anchor="start" textLength="14.5" lengthAdjust="spacingAndGlyphs">77%</text>
<text x="338.25" y="213.6" font-size="8.2" fill="#5a6f98" stroke="#5a6f98" stroke-width="0.22" text-anchor="end" textLength="14.5" lengthAdjust="spacingAndGlyphs">42%</text>
<text x="220" y="310.8" font-size="8.2" fill="#78b062" stroke="#78b062" stroke-width="0.22" text-anchor="start" textLength="14.5" lengthAdjust="spacingAndGlyphs">23%</text>
<text x="338.25" y="310.8" font-size="8.2" fill="#78b062" stroke="#78b062" stroke-width="0.22" text-anchor="end" textLength="14.5" lengthAdjust="spacingAndGlyphs">58%</text>
<line x1="239.5" y1="210.75" x2="314.25" y2="210.75" stroke="#4a4a4a" stroke-width="0.55" stroke-dasharray="1.6,1.0"/>
<path transform="translate(319.25,210.75) rotate(0)" d="M0,0 L-6,-2.6 L-4.5,0 L-6,2.6 Z" fill="#111"/>
<line x1="239.5" y1="308" x2="314.25" y2="308" stroke="#4a4a4a" stroke-width="0.55" stroke-dasharray="1.6,1.0"/>
<path transform="translate(319.25,308) rotate(0)" d="M0,0 L-6,-2.6 L-4.5,0 L-6,2.6 Z" fill="#111"/>
<rect x="375.5" y="204.5" width="124.89999999999998" height="111.69999999999999" fill="#dfe1cc"/>
<polygon points="375.5,291.25 398,287.75 420,283.75 442.25,275.5 480.75,258.25 500.4,253 500.4,316.2 375.5,316.2" fill="#e5cbc1"/>
<polyline points="375.5,291.25 398,287.75 420,283.75 442.25,275.5 480.75,258.25 500.4,253" fill="none" stroke="#f4f2f4" stroke-opacity="0.55" stroke-width="2.8" stroke-linejoin="round"/>
<polyline points="375.5,291.25 398,287.75 420,283.75 442.25,275.5 480.75,258.25 500.4,253" fill="none" stroke="#a93347" stroke-width="1.25" stroke-linejoin="round"/>
<rect x="397" y="286.95" width="2" height="1.6" fill="#111"/>
<rect x="419" y="282.95" width="2" height="1.6" fill="#111"/>
<rect x="441.25" y="274.7" width="2" height="1.6" fill="#111"/>
<rect x="479.75" y="257.45" width="2" height="1.6" fill="#111"/>
<rect x="499.4" y="252.2" width="1.6" height="1.6" fill="#111"/>
<path d="M442.25,273.9 V277.1" stroke="#222" stroke-width="0.6" fill="none"/><path d="M440.95,273.9 H443.55 M440.95,277.1 H443.55" stroke="#111" stroke-width="0.75" fill="none"/>
<rect x="375.5" y="204.5" width="124.89999999999998" height="111.69999999999999" fill="none" stroke="#262626" stroke-width="1.2"/>
<text x="372.5" y="209.65" font-size="8.2" fill="#231f20" stroke="#231f20" stroke-width="0.22" text-anchor="end" textLength="12.6" lengthAdjust="spacingAndGlyphs">100</text>
<text x="372.5" y="231.65" font-size="8.2" fill="#231f20" stroke="#231f20" stroke-width="0.22" text-anchor="end" textLength="8.5" lengthAdjust="spacingAndGlyphs">80</text>
<text x="372.5" y="253.4" font-size="8.2" fill="#231f20" stroke="#231f20" stroke-width="0.22" text-anchor="end" textLength="8.5" lengthAdjust="spacingAndGlyphs">60</text>
<text x="372.5" y="275.4" font-size="8.2" fill="#231f20" stroke="#231f20" stroke-width="0.22" text-anchor="end" textLength="8.5" lengthAdjust="spacingAndGlyphs">40</text>
<text x="372.5" y="297.15" font-size="8.2" fill="#231f20" stroke="#231f20" stroke-width="0.22" text-anchor="end" textLength="8.5" lengthAdjust="spacingAndGlyphs">20</text>
<text x="372.5" y="318.65" font-size="8.2" fill="#231f20" stroke="#231f20" stroke-width="0.22" text-anchor="end" textLength="4.3" lengthAdjust="spacingAndGlyphs">0</text>
<text x="375.75" y="327" font-size="8.2" fill="#231f20" stroke="#231f20" stroke-width="0.22" text-anchor="middle" textLength="4.3" lengthAdjust="spacingAndGlyphs">0</text>
<text x="403" y="327" font-size="8.2" fill="#231f20" stroke="#231f20" stroke-width="0.22" text-anchor="middle" textLength="8.3" lengthAdjust="spacingAndGlyphs">10</text>
<text x="434.5" y="327" font-size="8.2" fill="#231f20" stroke="#231f20" stroke-width="0.22" text-anchor="middle" textLength="8.3" lengthAdjust="spacingAndGlyphs">20</text>
<text x="458" y="327" font-size="8.2" fill="#231f20" stroke="#231f20" stroke-width="0.22" text-anchor="middle" textLength="8.3" lengthAdjust="spacingAndGlyphs">30</text>
<text x="485.5" y="327" font-size="8.2" fill="#231f20" stroke="#231f20" stroke-width="0.22" text-anchor="middle" textLength="8.3" lengthAdjust="spacingAndGlyphs">40</text>
<text x="379.25" y="216" font-size="8.2" fill="#78b062" stroke="#78b062" stroke-width="0.22" text-anchor="start" textLength="14" lengthAdjust="spacingAndGlyphs">78%</text>
<text x="496.75" y="216" font-size="8.2" fill="#78b062" stroke="#78b062" stroke-width="0.22" text-anchor="end" textLength="14.75" lengthAdjust="spacingAndGlyphs">44%</text>
<text x="379.25" y="310.8" font-size="8.2" fill="#b23a50" stroke="#b23a50" stroke-width="0.22" text-anchor="start" textLength="14" lengthAdjust="spacingAndGlyphs">22%</text>
<text x="496.75" y="310.8" font-size="8.2" fill="#b23a50" stroke="#b23a50" stroke-width="0.22" text-anchor="end" textLength="14.75" lengthAdjust="spacingAndGlyphs">56%</text>
<line x1="397.5" y1="213.4" x2="473" y2="213.4" stroke="#4a4a4a" stroke-width="0.55" stroke-dasharray="1.6,1.0"/>
<path transform="translate(478,213.4) rotate(0)" d="M0,0 L-6,-2.6 L-4.5,0 L-6,2.6 Z" fill="#111"/>
<line x1="397.5" y1="308" x2="473" y2="308" stroke="#4a4a4a" stroke-width="0.55" stroke-dasharray="1.6,1.0"/>
<path transform="translate(478,308) rotate(0)" d="M0,0 L-6,-2.6 L-4.5,0 L-6,2.6 Z" fill="#111"/>
<rect x="58.5" y="349.6" width="196.5" height="112.29999999999995" fill="#cac8d7"/>
<polygon points="58.5,450.75 97.75,440 114.5,435.75 134,430 159.75,424 178.75,409.25 192.75,403.25 226.25,377.25 255,368.25 255,461.9 58.5,461.9" fill="#e5cbc1"/>
<polyline points="58.5,450.75 97.75,440 114.5,435.75 134,430 159.75,424 178.75,409.25 192.75,403.25 226.25,377.25 255,368.25" fill="none" stroke="#f4f2f4" stroke-opacity="0.55" stroke-width="2.8" stroke-linejoin="round"/>
<polyline points="58.5,450.75 97.75,440 114.5,435.75 134,430 159.75,424 178.75,409.25 192.75,403.25 226.25,377.25 255,368.25" fill="none" stroke="#a93347" stroke-width="1.25" stroke-linejoin="round"/>
<rect x="96.75" y="439.2" width="2" height="1.6" fill="#111"/>
<rect x="113.5" y="434.95" width="2" height="1.6" fill="#111"/>
<rect x="133" y="429.2" width="2" height="1.6" fill="#111"/>
<rect x="158.75" y="423.2" width="2" height="1.6" fill="#111"/>
<rect x="177.75" y="408.45" width="2" height="1.6" fill="#111"/>
<rect x="191.75" y="402.45" width="2" height="1.6" fill="#111"/>
<rect x="225.25" y="376.45" width="2" height="1.6" fill="#111"/>
<rect x="254" y="367.45" width="1.6" height="1.6" fill="#111"/>
<rect x="58.5" y="349.6" width="196.5" height="112.29999999999995" fill="none" stroke="#262626" stroke-width="1.2"/>
<text x="55.5" y="352.4" font-size="8.2" fill="#231f20" stroke="#231f20" stroke-width="0.22" text-anchor="end" textLength="12.6" lengthAdjust="spacingAndGlyphs">100</text>
<text x="55.5" y="374.9" font-size="8.2" fill="#231f20" stroke="#231f20" stroke-width="0.22" text-anchor="end" textLength="8.5" lengthAdjust="spacingAndGlyphs">80</text>
<text x="55.5" y="397.65" font-size="8.2" fill="#231f20" stroke="#231f20" stroke-width="0.22" text-anchor="end" textLength="8.5" lengthAdjust="spacingAndGlyphs">60</text>
<text x="55.5" y="419.9" font-size="8.2" fill="#231f20" stroke="#231f20" stroke-width="0.22" text-anchor="end" textLength="8.5" lengthAdjust="spacingAndGlyphs">40</text>
<text x="55.5" y="442.4" font-size="8.2" fill="#231f20" stroke="#231f20" stroke-width="0.22" text-anchor="end" textLength="8.5" lengthAdjust="spacingAndGlyphs">20</text>
<text x="55.5" y="464.65" font-size="8.2" fill="#231f20" stroke="#231f20" stroke-width="0.22" text-anchor="end" textLength="4.3" lengthAdjust="spacingAndGlyphs">0</text>
<text x="58.5" y="472.8" font-size="8.2" fill="#231f20" stroke="#231f20" stroke-width="0.22" text-anchor="middle" textLength="4.3" lengthAdjust="spacingAndGlyphs">0</text>
<text x="85.75" y="472.8" font-size="8.2" fill="#231f20" stroke="#231f20" stroke-width="0.22" text-anchor="middle" textLength="8.3" lengthAdjust="spacingAndGlyphs">10</text>
<text x="113.75" y="472.8" font-size="8.2" fill="#231f20" stroke="#231f20" stroke-width="0.22" text-anchor="middle" textLength="8.3" lengthAdjust="spacingAndGlyphs">20</text>
<text x="141.75" y="472.8" font-size="8.2" fill="#231f20" stroke="#231f20" stroke-width="0.22" text-anchor="middle" textLength="8.3" lengthAdjust="spacingAndGlyphs">30</text>
<text x="169.25" y="472.8" font-size="8.2" fill="#231f20" stroke="#231f20" stroke-width="0.22" text-anchor="middle" textLength="8.3" lengthAdjust="spacingAndGlyphs">40</text>
<text x="196.75" y="472.8" font-size="8.2" fill="#231f20" stroke="#231f20" stroke-width="0.22" text-anchor="middle" textLength="8.3" lengthAdjust="spacingAndGlyphs">50</text>
<text x="224.5" y="472.8" font-size="8.2" fill="#231f20" stroke="#231f20" stroke-width="0.22" text-anchor="middle" textLength="8.3" lengthAdjust="spacingAndGlyphs">60</text>
<text x="252.5" y="472.8" font-size="8.2" fill="#231f20" stroke="#231f20" stroke-width="0.22" text-anchor="middle" textLength="8.3" lengthAdjust="spacingAndGlyphs">70</text>
<text x="61.75" y="360" font-size="8.2" fill="#5a6f98" stroke="#5a6f98" stroke-width="0.22" text-anchor="start" textLength="14.5" lengthAdjust="spacingAndGlyphs">90%</text>
<text x="252" y="360" font-size="8.2" fill="#5a6f98" stroke="#5a6f98" stroke-width="0.22" text-anchor="end" textLength="14.5" lengthAdjust="spacingAndGlyphs">17%</text>
<text x="61.75" y="457.2" font-size="8.2" fill="#b23a50" stroke="#b23a50" stroke-width="0.22" text-anchor="start" textLength="14.5" lengthAdjust="spacingAndGlyphs">10%</text>
<text x="252" y="457.2" font-size="8.2" fill="#b23a50" stroke="#b23a50" stroke-width="0.22" text-anchor="end" textLength="15" lengthAdjust="spacingAndGlyphs">83%</text>
<rect x="321.1" y="350.1" width="191.39999999999998" height="149.29999999999995" fill="#cac8d7"/>
<polygon points="321.1,484.5 358.75,475.5 375.75,460.75 394.75,447 419.25,415.5 438.25,405.5 452,394 484.75,375 512.5,366.75 512.5,499.4 321.1,499.4" fill="#e5cbc1"/>
<polygon points="321.1,490.5 358.75,486 375.75,480 394.75,472.5 419.25,467 438.25,466.25 452,467.75 484.75,480.25 512.5,483.75 512.5,499.4 321.1,499.4" fill="#dfe1cc"/>
<polyline points="321.1,484.5 358.75,475.5 375.75,460.75 394.75,447 419.25,415.5 438.25,405.5 452,394 484.75,375 512.5,366.75" fill="none" stroke="#f4f2f4" stroke-opacity="0.55" stroke-width="2.8" stroke-linejoin="round"/>
<polyline points="321.1,484.5 358.75,475.5 375.75,460.75 394.75,447 419.25,415.5 438.25,405.5 452,394 484.75,375 512.5,366.75" fill="none" stroke="#a93347" stroke-width="1.25" stroke-linejoin="round"/>
<rect x="357.75" y="474.7" width="2" height="1.6" fill="#111"/>
<rect x="374.75" y="459.95" width="2" height="1.6" fill="#111"/>
<rect x="393.75" y="446.2" width="2" height="1.6" fill="#111"/>
<rect x="418.25" y="414.7" width="2" height="1.6" fill="#111"/>
<rect x="437.25" y="404.7" width="2" height="1.6" fill="#111"/>
<rect x="451" y="393.2" width="2" height="1.6" fill="#111"/>
<rect x="483.75" y="374.2" width="2" height="1.6" fill="#111"/>
<rect x="511.5" y="365.95" width="1.6" height="1.6" fill="#111"/>
<polyline points="321.1,490.5 358.75,486 375.75,480 394.75,472.5 419.25,467 438.25,466.25 452,467.75 484.75,480.25 512.5,483.75" fill="none" stroke="#f4f2f4" stroke-opacity="0.55" stroke-width="2.8" stroke-linejoin="round"/>
<polyline points="321.1,490.5 358.75,486 375.75,480 394.75,472.5 419.25,467 438.25,466.25 452,467.75 484.75,480.25 512.5,483.75" fill="none" stroke="#6aa650" stroke-width="1.25" stroke-linejoin="round"/>
<rect x="357.75" y="485.2" width="2" height="1.6" fill="#111"/>
<rect x="374.75" y="479.2" width="2" height="1.6" fill="#111"/>
<rect x="393.75" y="471.7" width="2" height="1.6" fill="#111"/>
<rect x="418.25" y="466.2" width="2" height="1.6" fill="#111"/>
<rect x="437.25" y="465.45" width="2" height="1.6" fill="#111"/>
<rect x="451" y="466.95" width="2" height="1.6" fill="#111"/>
<rect x="483.75" y="479.45" width="2" height="1.6" fill="#111"/>
<rect x="321.1" y="350.1" width="191.39999999999998" height="149.29999999999995" fill="none" stroke="#262626" stroke-width="1.2"/>
<text x="317.5" y="352.9" font-size="8.2" fill="#231f20" stroke="#231f20" stroke-width="0.22" text-anchor="end" textLength="12.6" lengthAdjust="spacingAndGlyphs">100</text>
<text x="317.5" y="382.4" font-size="8.2" fill="#231f20" stroke="#231f20" stroke-width="0.22" text-anchor="end" textLength="8.5" lengthAdjust="spacingAndGlyphs">80</text>
<text x="317.5" y="412.4" font-size="8.2" fill="#231f20" stroke="#231f20" stroke-width="0.22" text-anchor="end" textLength="8.5" lengthAdjust="spacingAndGlyphs">60</text>
<text x="317.5" y="442.15" font-size="8.2" fill="#231f20" stroke="#231f20" stroke-width="0.22" text-anchor="end" textLength="8.5" lengthAdjust="spacingAndGlyphs">40</text>
<text x="317.5" y="472.4" font-size="8.2" fill="#231f20" stroke="#231f20" stroke-width="0.22" text-anchor="end" textLength="8.5" lengthAdjust="spacingAndGlyphs">20</text>
<text x="317.5" y="501.9" font-size="8.2" fill="#231f20" stroke="#231f20" stroke-width="0.22" text-anchor="end" textLength="4.3" lengthAdjust="spacingAndGlyphs">0</text>
<text x="321" y="510.3" font-size="8.2" fill="#231f20" stroke="#231f20" stroke-width="0.22" text-anchor="middle" textLength="4.3" lengthAdjust="spacingAndGlyphs">0</text>
<text x="348.5" y="510.3" font-size="8.2" fill="#231f20" stroke="#231f20" stroke-width="0.22" text-anchor="middle" textLength="8.3" lengthAdjust="spacingAndGlyphs">10</text>
<text x="376.25" y="510.3" font-size="8.2" fill="#231f20" stroke="#231f20" stroke-width="0.22" text-anchor="middle" textLength="8.3" lengthAdjust="spacingAndGlyphs">20</text>
<text x="404" y="510.3" font-size="8.2" fill="#231f20" stroke="#231f20" stroke-width="0.22" text-anchor="middle" textLength="8.3" lengthAdjust="spacingAndGlyphs">30</text>
<text x="431.75" y="510.3" font-size="8.2" fill="#231f20" stroke="#231f20" stroke-width="0.22" text-anchor="middle" textLength="8.3" lengthAdjust="spacingAndGlyphs">40</text>
<text x="459.5" y="510.3" font-size="8.2" fill="#231f20" stroke="#231f20" stroke-width="0.22" text-anchor="middle" textLength="8.3" lengthAdjust="spacingAndGlyphs">50</text>
<text x="487.25" y="510.3" font-size="8.2" fill="#231f20" stroke="#231f20" stroke-width="0.22" text-anchor="middle" textLength="8.3" lengthAdjust="spacingAndGlyphs">60</text>
<text x="323.75" y="360.5" font-size="8.2" fill="#5a6f98" stroke="#5a6f98" stroke-width="0.22" text-anchor="start" textLength="15" lengthAdjust="spacingAndGlyphs">90%</text>
<text x="509" y="360.5" font-size="8.2" fill="#5a6f98" stroke="#5a6f98" stroke-width="0.22" text-anchor="end" textLength="14" lengthAdjust="spacingAndGlyphs">12%</text>
<text x="323.75" y="472.5" font-size="8.2" fill="#b23a50" stroke="#b23a50" stroke-width="0.22" text-anchor="start" textLength="10" lengthAdjust="spacingAndGlyphs">4%</text>
<text x="509" y="427.5" font-size="8.2" fill="#b23a50" stroke="#b23a50" stroke-width="0.22" text-anchor="end" textLength="14" lengthAdjust="spacingAndGlyphs">77%</text>
<text x="323.75" y="498" font-size="8.2" fill="#78b062" stroke="#78b062" stroke-width="0.22" text-anchor="start" textLength="10" lengthAdjust="spacingAndGlyphs">6%</text>
<text x="509" y="494.2" font-size="8.2" fill="#78b062" stroke="#78b062" stroke-width="0.22" text-anchor="end" textLength="14" lengthAdjust="spacingAndGlyphs">11%</text>
<rect x="58.5" y="495.6" width="237.0" height="110.19999999999993" fill="#cac8d7"/>
<polygon points="58.5,604.5 77.5,604.25 99.75,603.5 141.75,602.5 183.75,597 197.5,581.75 225.5,551.5 267.5,504.25 295.5,500.5 295.5,605.8 58.5,605.8" fill="#e5cbc1"/>
<polyline points="58.5,604.5 77.5,604.25 99.75,603.5 141.75,602.5 183.75,597 197.5,581.75 225.5,551.5 267.5,504.25 295.5,500.5" fill="none" stroke="#f4f2f4" stroke-opacity="0.55" stroke-width="2.8" stroke-linejoin="round"/>
<polyline points="58.5,604.5 77.5,604.25 99.75,603.5 141.75,602.5 183.75,597 197.5,581.75 225.5,551.5 267.5,504.25 295.5,500.5" fill="none" stroke="#a93347" stroke-width="1.25" stroke-linejoin="round"/>
<rect x="76.5" y="603.45" width="2" height="1.6" fill="#111"/>
<rect x="98.75" y="602.7" width="2" height="1.6" fill="#111"/>
<rect x="140.75" y="601.7" width="2" height="1.6" fill="#111"/>
<rect x="182.75" y="596.2" width="2" height="1.6" fill="#111"/>
<rect x="196.5" y="580.95" width="2" height="1.6" fill="#111"/>
<rect x="224.5" y="550.7" width="2" height="1.6" fill="#111"/>
<rect x="266.5" y="503.45" width="2" height="1.6" fill="#111"/>
<rect x="294.5" y="499.7" width="1.6" height="1.6" fill="#111"/>
<rect x="58.5" y="495.6" width="237.0" height="110.19999999999993" fill="none" stroke="#262626" stroke-width="1.2"/>
<text x="55.5" y="498.4" font-size="8.2" fill="#231f20" stroke="#231f20" stroke-width="0.22" text-anchor="end" textLength="12.6" lengthAdjust="spacingAndGlyphs">100</text>
<text x="55.5" y="520.9" font-size="8.2" fill="#231f20" stroke="#231f20" stroke-width="0.22" text-anchor="end" textLength="8.5" lengthAdjust="spacingAndGlyphs">80</text>
<text x="55.5" y="542.9" font-size="8.2" fill="#231f20" stroke="#231f20" stroke-width="0.22" text-anchor="end" textLength="8.5" lengthAdjust="spacingAndGlyphs">60</text>
<text x="55.5" y="564.9" font-size="8.2" fill="#231f20" stroke="#231f20" stroke-width="0.22" text-anchor="end" textLength="8.5" lengthAdjust="spacingAndGlyphs">40</text>
<text x="55.5" y="586.65" font-size="8.2" fill="#231f20" stroke="#231f20" stroke-width="0.22" text-anchor="end" textLength="8.5" lengthAdjust="spacingAndGlyphs">20</text>
<text x="55.5" y="608.4" font-size="8.2" fill="#231f20" stroke="#231f20" stroke-width="0.22" text-anchor="end" textLength="4.3" lengthAdjust="spacingAndGlyphs">0</text>
<text x="58.5" y="616.5" font-size="8.2" fill="#231f20" stroke="#231f20" stroke-width="0.22" text-anchor="middle" textLength="4.3" lengthAdjust="spacingAndGlyphs">0</text>
<text x="85.75" y="616.5" font-size="8.2" fill="#231f20" stroke="#231f20" stroke-width="0.22" text-anchor="middle" textLength="8.3" lengthAdjust="spacingAndGlyphs">10</text>
<text x="113.25" y="616.5" font-size="8.2" fill="#231f20" stroke="#231f20" stroke-width="0.22" text-anchor="middle" textLength="8.3" lengthAdjust="spacingAndGlyphs">20</text>
<text x="140.5" y="616.5" font-size="8.2" fill="#231f20" stroke="#231f20" stroke-width="0.22" text-anchor="middle" textLength="8.3" lengthAdjust="spacingAndGlyphs">30</text>
<text x="168" y="616.5" font-size="8.2" fill="#231f20" stroke="#231f20" stroke-width="0.22" text-anchor="middle" textLength="8.3" lengthAdjust="spacingAndGlyphs">40</text>
<text x="195.5" y="616.5" font-size="8.2" fill="#231f20" stroke="#231f20" stroke-width="0.22" text-anchor="middle" textLength="8.3" lengthAdjust="spacingAndGlyphs">50</text>
<text x="223" y="616.5" font-size="8.2" fill="#231f20" stroke="#231f20" stroke-width="0.22" text-anchor="middle" textLength="8.3" lengthAdjust="spacingAndGlyphs">60</text>
<text x="250.5" y="616.5" font-size="8.2" fill="#231f20" stroke="#231f20" stroke-width="0.22" text-anchor="middle" textLength="8.3" lengthAdjust="spacingAndGlyphs">70</text>
<text x="278" y="616.5" font-size="8.2" fill="#231f20" stroke="#231f20" stroke-width="0.22" text-anchor="middle" textLength="8.3" lengthAdjust="spacingAndGlyphs">80</text>
<text x="61.75" y="506.2" font-size="8.2" fill="#5a6f98" stroke="#5a6f98" stroke-width="0.22" text-anchor="start" textLength="14.5" lengthAdjust="spacingAndGlyphs">99%</text>
<text x="292.5" y="512.2" font-size="8.2" fill="#5a6f98" stroke="#5a6f98" stroke-width="0.22" text-anchor="end" textLength="10.7" lengthAdjust="spacingAndGlyphs">4%</text>
<text x="61.75" y="601" font-size="8.2" fill="#b23a50" stroke="#b23a50" stroke-width="0.22" text-anchor="start" textLength="10" lengthAdjust="spacingAndGlyphs">1%</text>
<text x="292.5" y="601" font-size="8.2" fill="#b23a50" stroke="#b23a50" stroke-width="0.22" text-anchor="end" textLength="15" lengthAdjust="spacingAndGlyphs">96%</text>
<line x1="37.5" y1="605" x2="37.5" y2="210.10000000000002" stroke="#111" stroke-width="1.0"/>
<path transform="translate(37.5,203.8) rotate(-90.0)" d="M0,0 L-8.5,-3.7 L-6.3,0 L-8.5,3.7 Z" fill="#111"/>
<line x1="58.75" y1="621.5" x2="505.79999999999995" y2="621.5" stroke="#111" stroke-width="1.0"/>
<path transform="translate(512.3,621.5) rotate(0.0)" d="M0,0 L-8.7,-3.6 L-6.499999999999999,0 L-8.7,3.6 Z" fill="#111"/>
<text transform="translate(29.4,400.7) rotate(-90)" x="0" y="0" font-size="11.5" fill="#231f20" stroke="#231f20" stroke-width="0.22" text-anchor="middle" textLength="64" lengthAdjust="spacingAndGlyphs">Percent of cells</text>
<text x="246.9" y="633.5" font-size="11" fill="#231f20" stroke="#231f20" stroke-width="0.22" text-anchor="start" textLength="77" lengthAdjust="spacingAndGlyphs">Days in co-culture</text>
<line x1="359.3" y1="592.2" x2="359.3" y2="533.4" stroke="#111" stroke-width="1.0"/>
<path transform="translate(359.3,528.5) rotate(-90.0)" d="M0,0 L-6.7,-3.0 L-4.9,0 L-6.7,3.0 Z" fill="#111"/>
<text transform="translate(344,560) rotate(-90)" font-size="9.3" fill="#231f20" stroke="#231f20" stroke-width="0.22" text-anchor="middle" textLength="43" lengthAdjust="spacingAndGlyphs">Proliferative</text>
<text transform="translate(354,560.3) rotate(-90)" font-size="9.3" fill="#231f20" stroke="#231f20" stroke-width="0.22" text-anchor="middle" textLength="24.6" lengthAdjust="spacingAndGlyphs">Fitness</text>
<rect x="365.25" y="528.4" width="114.35" height="19" fill="#e5cbc1" stroke="#c45a6a" stroke-width="1"/>
<text x="422.6" y="540.6" font-size="8.7" fill="#b23a50" stroke="#b23a50" stroke-width="0.22" text-anchor="middle" textLength="84.75" lengthAdjust="spacingAndGlyphs">TP53 bi-allelic (del/mut)</text>
<rect x="365.25" y="550.6" width="114.35" height="19" fill="#dfe1cc" stroke="#8fc27c" stroke-width="1"/>
<text x="422.6" y="562.75" font-size="8.7" fill="#78b062" stroke="#78b062" stroke-width="0.22" text-anchor="middle" textLength="97.1" lengthAdjust="spacingAndGlyphs">TP53 mono-allelic (wt/mut)</text>
<rect x="365.25" y="573.1" width="114.35" height="19.4" fill="#cac8d7" stroke="#5f7399" stroke-width="1"/>
<text x="422.6" y="585.25" font-size="8.7" fill="#5a6f98" stroke="#5a6f98" stroke-width="0.22" text-anchor="middle" textLength="87.9" lengthAdjust="spacingAndGlyphs">AMO1 cells (TP53 wt/wt)</text>
</svg></body></html>
